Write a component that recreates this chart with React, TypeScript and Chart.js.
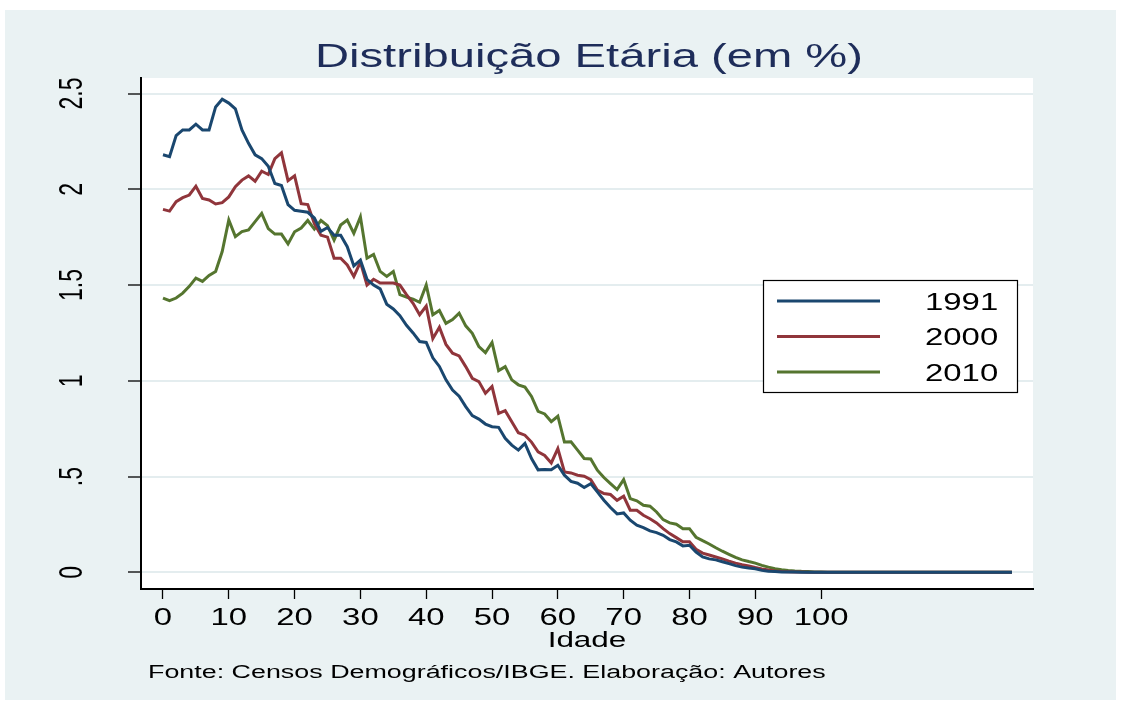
import React, { useEffect, useRef } from 'react';
import { Chart, registerables } from 'chart.js';

Chart.register(...registerables);

const TITLE = 'Distribuição Etária (em %)';
const X_TITLE = 'Idade';
const NOTE = 'Fonte: Censos Demográficos/IBGE. Elaboração: Autores';

const X_TICKS = [0, 10, 20, 30, 40, 50, 60, 70, 80, 90, 100];
const Y_TICKS = [0, 0.5, 1, 1.5, 2, 2.5];
const Y_TICK_LABELS = ['0', '.5', '1', '1.5', '2', '2.5'];

const SERIES_NAMES = ['1991', '2000', '2010'];
const SERIES_COLORS = ['#1A476F', '#90353B', '#55752F'];

// ages 0..129
const AGES = Array.from({ length: 130 }, (_, i) => i);

const TAIL_ZEROS = [0, 0, 0, 0, 0, 0, 0, 0, 0, 0, 0, 0, 0, 0, 0, 0, 0, 0, 0, 0, 0, 0, 0, 0, 0, 0, 0, 0, 0];

const V1991 = [
  2.18, 2.17, 2.28, 2.31, 2.31, 2.34, 2.31, 2.31, 2.43, 2.47,
  2.45, 2.42, 2.31, 2.24, 2.18, 2.16, 2.12, 2.03, 2.02, 1.92,
  1.89, 1.885, 1.88, 1.85, 1.78, 1.80, 1.76, 1.76, 1.70, 1.60,
  1.63, 1.53, 1.50, 1.48, 1.40, 1.375, 1.34, 1.29, 1.25, 1.205,
  1.20, 1.12, 1.075, 1.005, 0.952, 0.92, 0.865, 0.818, 0.80, 0.774,
  0.76, 0.757, 0.70, 0.664, 0.638, 0.673, 0.594, 0.535, 0.537, 0.535,
  0.559, 0.507, 0.475, 0.465, 0.443, 0.463, 0.42, 0.376, 0.338, 0.305,
  0.31, 0.272, 0.246, 0.233, 0.216, 0.207, 0.193, 0.171, 0.159, 0.138,
  0.141, 0.106, 0.08, 0.07, 0.065, 0.055, 0.045, 0.035, 0.027, 0.022,
  0.018, 0.01, 0.006, 0.004, 0.002, 0.001, 0.001, 0, 0, 0, 0,
].concat(TAIL_ZEROS);

const V2000 = [
  1.895, 1.886, 1.935, 1.956, 1.97, 2.016, 1.952, 1.944, 1.923, 1.93,
  1.96, 2.013, 2.048, 2.07, 2.042, 2.094, 2.077, 2.16, 2.19, 2.045,
  2.07, 1.925, 1.92, 1.82, 1.76, 1.75, 1.64, 1.64, 1.605, 1.545,
  1.62, 1.50, 1.53, 1.51, 1.51, 1.51, 1.50, 1.45, 1.405, 1.345,
  1.39, 1.22, 1.28, 1.19, 1.144, 1.13, 1.074, 1.013, 0.996, 0.935,
  0.97, 0.83, 0.844, 0.786, 0.729, 0.716, 0.68, 0.629, 0.61, 0.571,
  0.646, 0.524, 0.519, 0.507, 0.502, 0.484, 0.429, 0.411, 0.406, 0.376,
  0.397, 0.324, 0.324, 0.298, 0.28, 0.258, 0.228, 0.202, 0.181, 0.159,
  0.159, 0.12, 0.10, 0.09, 0.08, 0.07, 0.058, 0.048, 0.04, 0.033,
  0.025, 0.018, 0.012, 0.007, 0.004, 0.003, 0.002, 0.001, 0, 0, 0,
].concat(TAIL_ZEROS);

const V2010 = [
  1.432, 1.418, 1.432, 1.458, 1.493, 1.536, 1.519, 1.55, 1.571, 1.675,
  1.84, 1.753, 1.779, 1.788, 1.831, 1.874, 1.795, 1.766, 1.766, 1.715,
  1.778, 1.798, 1.837, 1.792, 1.837, 1.81, 1.735, 1.813, 1.839, 1.77,
  1.856, 1.64, 1.66, 1.571, 1.545, 1.571, 1.45, 1.437, 1.426, 1.41,
  1.50, 1.345, 1.367, 1.30, 1.32, 1.353, 1.287, 1.248, 1.178, 1.147,
  1.20, 1.053, 1.074, 1.005, 0.979, 0.967, 0.918, 0.84, 0.827, 0.787,
  0.815, 0.68, 0.681, 0.638, 0.594, 0.592, 0.533, 0.495, 0.463, 0.432,
  0.484, 0.385, 0.373, 0.35, 0.345, 0.315, 0.275, 0.258, 0.251, 0.228,
  0.228, 0.183, 0.165, 0.148, 0.128, 0.11, 0.094, 0.078, 0.065, 0.056,
  0.048, 0.036, 0.027, 0.019, 0.014, 0.01, 0.007, 0.005, 0.004, 0.002, 0.001,
].concat(TAIL_ZEROS);

const SERIES_VALUES = [V1991, V2000, V2010];

const W = 1121;
const H = 702;
const FONT = '"Liberation Sans", Arial, Helvetica, sans-serif';
const SX = 1.43; // horizontal stretch of the reference's text

function drawText(
  ctx: CanvasRenderingContext2D,
  text: string,
  x: number,
  y: number,
  size: number,
  color: string,
  align: CanvasTextAlign,
  rotated = false
) {
  ctx.save();
  ctx.translate(x, y);
  ctx.scale(SX, 1);
  if (rotated) ctx.rotate(-Math.PI / 2);
  ctx.font = `${size}px ${FONT}`;
  ctx.fillStyle = color;
  ctx.textAlign = align;
  ctx.textBaseline = 'alphabetic';
  ctx.fillText(text, 0, 0);
  ctx.restore();
}

const backgroundPlugin = {
  id: 'stataBackground',
  beforeDraw(chart: any) {
    const { ctx, chartArea } = chart;
    ctx.save();
    ctx.fillStyle = '#ffffff';
    ctx.fillRect(0, 0, W, H);
    ctx.fillStyle = '#EAF2F3';
    ctx.fillRect(5, 10, 1111, 690);
    ctx.fillStyle = '#ffffff';
    ctx.fillRect(chartArea.left, chartArea.top, chartArea.right - chartArea.left, chartArea.bottom - chartArea.top);
    ctx.restore();
  },
};

const textPlugin = {
  id: 'stataText',
  afterDraw(chart: any) {
    const { ctx, chartArea } = chart;
    const xs = chart.scales.x;
    const ys = chart.scales.y;
    // title
    drawText(ctx, TITLE, (chartArea.left + chartArea.right) / 2 + 2, 67, 33, '#1e2d5a', 'center');
    // x tick labels
    X_TICKS.forEach((v) => {
      drawText(ctx, String(v), xs.getPixelForValue(v), 625, 23, '#000', 'center');
    });
    // y tick labels (rotated)
    Y_TICKS.forEach((v, i) => {
      drawText(ctx, Y_TICK_LABELS[i], 82, ys.getPixelForValue(v), 23, '#000', 'center', true);
    });
    // x title
    drawText(ctx, X_TITLE, (chartArea.left + chartArea.right) / 2, 647, 22, '#000', 'center');
    // note
    drawText(ctx, NOTE, 148, 678, 18.8, '#000', 'left');

    // legend
    const bx = 763, by = 280, bw = 254, bh = 112;
    ctx.save();
    ctx.fillStyle = '#fff';
    ctx.fillRect(bx, by, bw, bh);
    ctx.strokeStyle = '#000';
    ctx.lineWidth = 1.2;
    ctx.strokeRect(bx + 0.5, by + 0.5, bw, bh);
    ctx.restore();
    SERIES_NAMES.forEach((name, i) => {
      const cy = 301 + i * 35.5;
      ctx.save();
      ctx.strokeStyle = SERIES_COLORS[i];
      ctx.lineWidth = 3;
      ctx.beginPath();
      ctx.moveTo(777, cy);
      ctx.lineTo(880, cy);
      ctx.stroke();
      ctx.restore();
      drawText(ctx, name, 925, cy + 8.5, 23, '#000', 'left');
    });
  },
};

export default function App() {
  const ref = useRef<HTMLCanvasElement | null>(null);

  useEffect(() => {
    const canvas = ref.current;
    if (!canvas) return;
    const datasets = SERIES_NAMES.map((name, i) => ({
      label: name,
      data: AGES.map((a, j) => ({ x: a, y: SERIES_VALUES[i][j] })),
      borderColor: SERIES_COLORS[i],
      backgroundColor: SERIES_COLORS[i],
      borderWidth: 3,
      pointRadius: 0,
      tension: 0,
      fill: false,
    }));

    const chart = new Chart(canvas, {
      type: 'line',
      data: { datasets },
      plugins: [backgroundPlugin, textPlugin],
      options: {
        animation: false,
        responsive: false,
        maintainAspectRatio: false,
        devicePixelRatio: 1,
        layout: { padding: { left: 0, top: 78, right: 88, bottom: 0 } },
        plugins: {
          legend: { display: false },
          tooltip: { enabled: false },
          title: { display: false },
        },
        scales: {
          x: {
            type: 'linear',
            min: -3.34,
            max: 132.2,
            afterBuildTicks: (s: any) => {
              s.ticks = X_TICKS.map((v) => ({ value: v }));
            },
            afterFit: (s: any) => {
              s.height = H - 589;
            },
            ticks: { display: false },
            grid: {
              drawOnChartArea: false,
              drawTicks: true,
              tickLength: 10,
              tickColor: '#000',
              tickWidth: 1.3,
            },
            border: { display: true, color: '#000', width: 2 },
          },
          y: {
            type: 'linear',
            min: -0.0872,
            max: 2.581,
            afterBuildTicks: (s: any) => {
              s.ticks = Y_TICKS.map((v) => ({ value: v }));
            },
            afterFit: (s: any) => {
              s.width = 141;
            },
            ticks: { display: false },
            grid: {
              drawOnChartArea: true,
              color: '#E4EDEF',
              lineWidth: 2,
              drawTicks: true,
              tickLength: 13,
              tickColor: '#000',
              tickWidth: 1.3,
            },
            border: { display: true, color: '#000', width: 2 },
          },
        },
      } as any,
    });
    return () => chart.destroy();
  }, []);

  return (
    <div style={{ position: 'fixed', left: 0, top: 0, width: W, height: H, background: '#fff' }}>
      <canvas ref={ref} width={W} height={H} style={{ display: 'block', width: W, height: H }} />
    </div>
  );
}
